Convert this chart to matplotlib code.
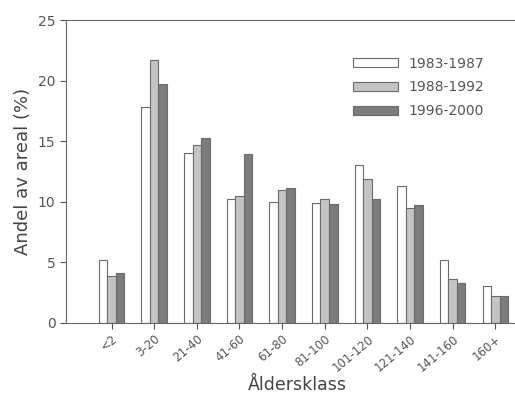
import numpy as np
import matplotlib.pyplot as plt

categories = ['<2', '3-20', '21-40', '41-60', '61-80', '81-100',
              '101-120', '121-140', '141-160', '160+']
p1983 = [5.2, 17.8, 14.0, 10.2, 10.0, 9.9, 13.0, 11.3, 5.2, 3.0]
p1988 = [3.9, 21.7, 14.7, 10.5, 11.0, 10.2, 11.9, 9.5, 3.6, 2.2]
p1996 = [4.1, 19.7, 15.3, 13.9, 11.1, 9.8, 10.2, 9.7, 3.3, 2.2]
series = ['1983-1987', '1988-1992', '1996-2000']

fig = plt.figure(figsize=(5.15, 4.01), dpi=100)
ax = fig.add_axes([0.128, 0.195, 0.9, 0.755])

x = np.arange(len(categories))
w = 0.2
ec = '#6a6a6a'
ax.bar(x - w, p1983, w, color='white', edgecolor=ec, linewidth=0.8, label=series[0])
ax.bar(x, p1988, w, color='#c4c4c4', edgecolor=ec, linewidth=0.8, label=series[1])
ax.bar(x + w, p1996, w, color='#7c7c7c', edgecolor=ec, linewidth=0.8, label=series[2])

ax.set_xlim(-1.07, 9.8)
ax.set_ylim(0, 25)
ax.set_yticks([0, 5, 10, 15, 20, 25])
ax.set_xticks(x)
ax.set_xticklabels(categories, rotation=40, ha='right', rotation_mode='anchor')
ax.tick_params(colors='#555555', labelcolor='#555555', length=4)
ax.tick_params(axis='y', labelsize=10)
ax.tick_params(axis='x', labelsize=8.5, pad=3)
for s in ax.spines.values():
    s.set_color('#666666')
ax.spines['right'].set_visible(False)

ax.set_ylabel('Andel av areal (%)', fontsize=13, color='#444444')
ax.set_xlabel('Åldersklass', fontsize=12.5, color='#444444', labelpad=1)

leg = ax.legend(loc='upper right', bbox_to_anchor=(0.93, 0.92), frameon=False,
                handlelength=3.2, handleheight=0.6, fontsize=10, labelspacing=0.7)
for t in leg.get_texts():
    t.set_color('#555555')

fig.savefig('out.png', dpi=100)
